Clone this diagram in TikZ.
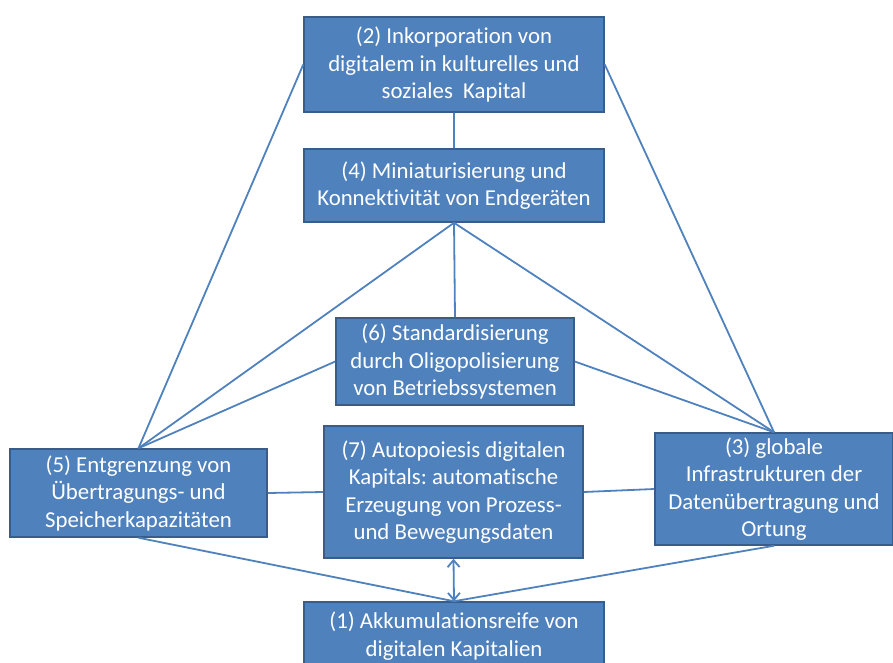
\documentclass[tikz,border=0pt]{standalone}
\usepackage{fontspec}
\setmainfont{Carlito}[Ligatures=NoCommon]
\usetikzlibrary{arrows.meta}
\definecolor{boxblue}{RGB}{79,129,189}
\definecolor{boxedge}{RGB}{56,93,138}
\frenchspacing
\begin{document}
\begin{tikzpicture}[x=1pt,y=-1pt,
  box/.style={draw=boxedge,line width=1.5pt,fill=boxblue,text=white,align=center,
    inner sep=0pt,font=\fontsize{22.8}{27.5}\selectfont},
  link/.style={draw=boxblue,line width=1.8pt}]
\useasboundingbox (0,0) rectangle (893,663);
\node[box,minimum width=300pt,minimum height=95pt] (n2) at (454,64.5)
  {(2) Inkorporation von\\digitalem in kulturelles und\\soziales\ \ Kapital};
\node[box,minimum width=300pt,minimum height=73pt] (n4) at (454,185.5)
  {(4) Miniaturisierung und\\Konnektivität von Endgeräten};
\node[box,minimum width=238pt,minimum height=87pt] (n6) at (455,361.5)
  {(6) Standardisierung\\durch Oligopolisierung\\von Betriebssystemen};
\node[box,minimum width=259pt,minimum height=132pt] (n7) at (453.5,492)
  {(7) Autopoiesis digitalen\\Kapitals: automatische\\Erzeugung von Prozess-\\und Bewegungsdaten};
\node[box,minimum width=257pt,minimum height=88pt] (n5) at (138.5,493)
  {(5) Entgrenzung von\\Übertragungs- und\\Speicherkapazitäten};
\node[box,minimum width=238pt,minimum height=112pt] (n3) at (774,489)
  {(3) globale\\Infrastrukturen der\\Datenübertragung und\\Ortung};
\node[box,minimum width=300pt,minimum height=68pt] (n1) at (454,636)
  {(1) Akkumulationsreife von\\digitalen Kapitalien};
% connectors
\draw[link] (n2.west) -- (n5.north) (n2.east) -- (n3.north) (n2.south) -- (n4.north);
\draw[link] (n4.south) -- (n5.north) (n4.south) -- (n6.north) (n4.south) -- (n3.north);
\draw[link] (n6.west) -- (n5.north) (n6.east) -- (n3.north);
\draw[link] (n5.east) -- (n7.west) (n7.east) -- (n3.west);
\draw[link] (n5.south) -- (n1.north) (n3.south) -- (n1.north);
\draw[link,{Straight Barb[length=7pt,width=12pt]}-{Straight Barb[length=7pt,width=12pt]}] (n7.south) -- (n1.north);
\end{tikzpicture}
\end{document}
